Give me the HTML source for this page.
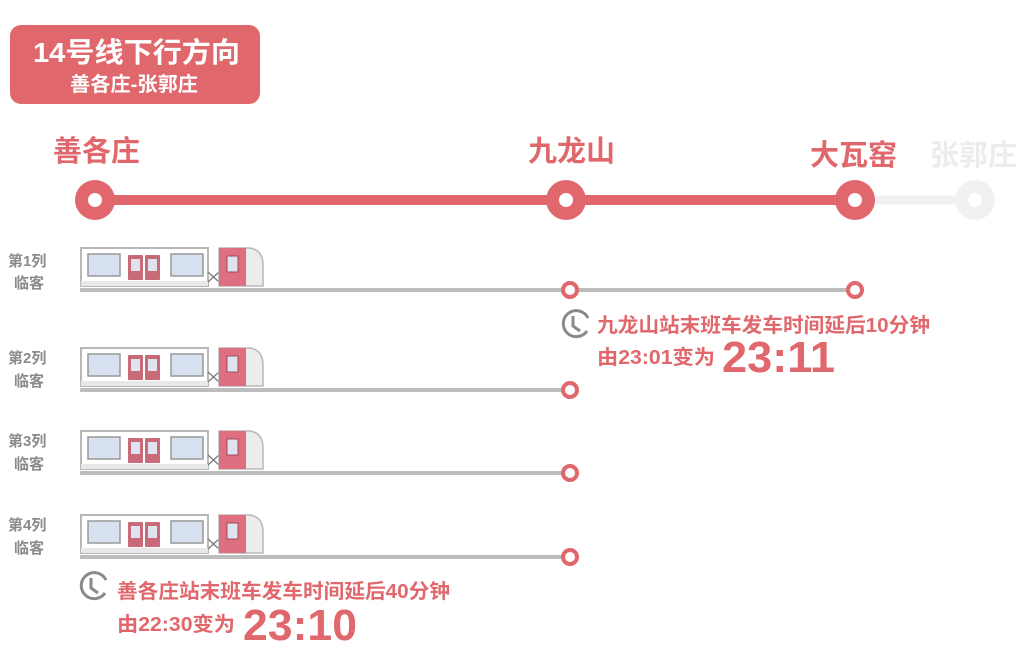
<!DOCTYPE html>
<html><head><meta charset="utf-8"><style>
html,body{margin:0;padding:0;background:#fff;}
body{width:1028px;height:669px;overflow:hidden;position:relative;font-family:"Liberation Sans","Noto Sans CJK SC",sans-serif;}
svg{position:absolute;left:0;top:0;}
text{font-family:"Liberation Sans","Noto Sans CJK SC",sans-serif;font-weight:bold;}
</style></head><body>
<svg width="1028" height="669" viewBox="0 0 1028 669">
<defs>
<g id="train">
  <rect x="81" y="248" width="127" height="38" fill="#fff" stroke="#b8b8b8" stroke-width="2"/>
  <rect x="81" y="281" width="127" height="5" fill="#e8e8e8"/>
  <rect x="88" y="254" width="32" height="22" fill="#d6e0ee" stroke="#999" stroke-width="1.5"/>
  <rect x="171" y="254" width="32" height="22" fill="#d6e0ee" stroke="#999" stroke-width="1.5"/>
  <rect x="128" y="255" width="15" height="25" fill="#c86a78" rx="1"/>
  <rect x="145" y="255" width="15" height="25" fill="#c86a78" rx="1"/>
  <rect x="131" y="259" width="9" height="12" fill="#dfe3f0"/>
  <rect x="148" y="259" width="9" height="12" fill="#dfe3f0"/>
  <path d="M208 272 L219 282 M208 282 L219 272" stroke="#777" stroke-width="1.2"/>
  <path d="M219 248 H250 Q263 250 263 265 V286 H219 Z" fill="#ececec" stroke="#b8b8b8" stroke-width="1.5"/>
  <rect x="219" y="248" width="27" height="38" fill="#de6f80"/>
  <rect x="227" y="256" width="11" height="16" fill="#dfe3f0" stroke="#a04858" stroke-width="1"/>
</g>
</defs>
<rect x="10" y="25" width="250" height="79" rx="11" fill="#e0686c"/>
<text x="33" y="62" fill="#fff" font-size="28" textLength="207" lengthAdjust="spacingAndGlyphs">14号线下行方向</text>
<text x="70" y="91" fill="#fff" font-size="20" textLength="128" lengthAdjust="spacingAndGlyphs">善各庄-张郭庄</text>

<text x="53" y="161" fill="#e0676b" font-size="29">善各庄</text>
<text x="528" y="161" fill="#e0676b" font-size="29">九龙山</text>
<text x="810" y="165" fill="#e0676b" font-size="29">大瓦窑</text>
<text x="930" y="165" fill="#ececec" font-size="29">张郭庄</text>

<line x1="855" y1="200" x2="975" y2="200" stroke="#f1f1f1" stroke-width="9"/>
<circle cx="975" cy="200" r="20" fill="#f1f1f1"/><circle cx="975" cy="200" r="7" fill="#fff"/>
<line x1="95" y1="200" x2="855" y2="200" stroke="#e0676b" stroke-width="10"/>
<circle cx="95" cy="200" r="20" fill="#e0676b"/><circle cx="95" cy="200" r="7" fill="#fff"/>
<circle cx="566" cy="200" r="20" fill="#e0676b"/><circle cx="566" cy="200" r="7" fill="#fff"/>
<circle cx="855" cy="200" r="20" fill="#e0676b"/><circle cx="855" cy="200" r="7" fill="#fff"/>

<g fill="#8a8a8a" font-size="15">
<text x="8" y="266">第1列</text><text x="14" y="288">临客</text>
<text x="8" y="363">第2列</text><text x="14" y="386">临客</text>
<text x="8" y="446">第3列</text><text x="14" y="469">临客</text>
<text x="8" y="530">第4列</text><text x="14" y="553">临客</text>
</g>

<use href="#train"/>
<use href="#train" transform="translate(0,100)"/>
<use href="#train" transform="translate(0,183)"/>
<use href="#train" transform="translate(0,267)"/>

<g stroke="#bdbdbd" stroke-width="4">
<line x1="80" y1="290" x2="855" y2="290"/>
<line x1="80" y1="390" x2="570" y2="390"/>
<line x1="80" y1="473" x2="570" y2="473"/>
<line x1="80" y1="557" x2="570" y2="557"/>
</g>
<g fill="#fff" stroke="#e0676b" stroke-width="4">
<circle cx="570" cy="290" r="7"/><circle cx="855" cy="290" r="7"/>
<circle cx="570" cy="390" r="7"/><circle cx="570" cy="473" r="7"/><circle cx="570" cy="557" r="7"/>
</g>

<g fill="none" stroke="#8a8a8a" stroke-width="3">
<path d="M588 318 A13 13 0 1 0 587 331"/><path d="M573 316 V326 L580 331"/>
<path d="M106 580 A13 13 0 1 0 105 593"/><path d="M91 578 V588 L98 593"/>
</g>
<g fill="#e0676b">
<text x="597" y="332" font-size="20" textLength="333" lengthAdjust="spacingAndGlyphs">九龙山站末班车发车时间延后10分钟</text>
<text x="597" y="364" font-size="20" textLength="118" lengthAdjust="spacingAndGlyphs">由23:01变为</text>
<text x="722" y="372" font-size="44" textLength="113" lengthAdjust="spacingAndGlyphs">23:11</text>
<text x="117" y="598" font-size="20" textLength="333" lengthAdjust="spacingAndGlyphs">善各庄站末班车发车时间延后40分钟</text>
<text x="117" y="631" font-size="20" textLength="118" lengthAdjust="spacingAndGlyphs">由22:30变为</text>
<text x="243" y="640" font-size="44" textLength="114" lengthAdjust="spacingAndGlyphs">23:10</text>
</g>
</svg>
</body></html>
